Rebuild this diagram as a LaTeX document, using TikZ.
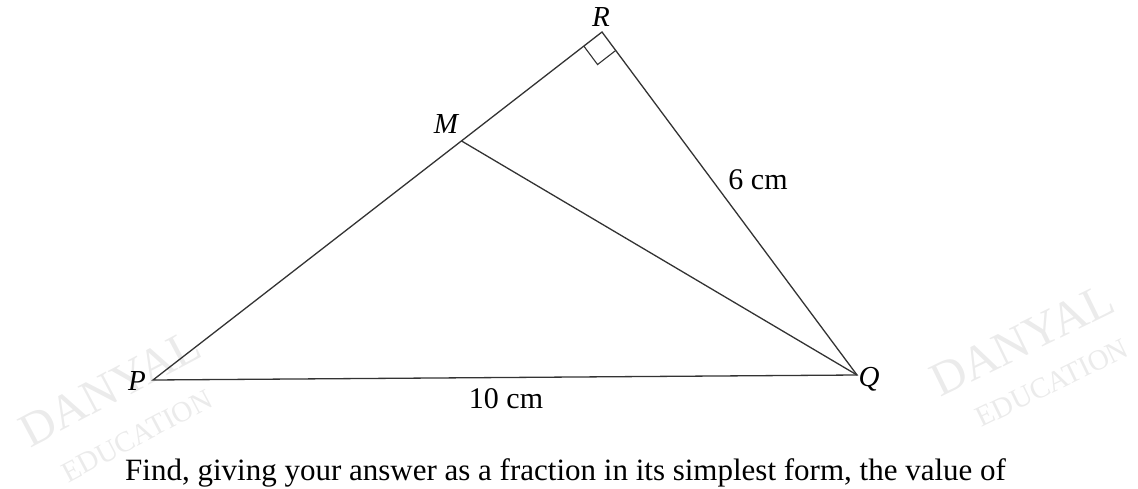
\documentclass[tikz,border=0pt]{standalone}
\usepackage{fontspec}
\setmainfont{Liberation Serif}
\usetikzlibrary{calc}
\begin{document}
\begin{tikzpicture}[x=1pt,y=-1pt,
  edge/.style={draw=black!80,line width=1.3pt},
  lbl/.style={font=\fontsize{29}{32}\selectfont\itshape,inner sep=0pt},
  meas/.style={font=\fontsize{30}{33}\selectfont,inner sep=0pt},
  body/.style={font=\fontsize{31}{34}\selectfont,inner sep=0pt},
  wmbig/.style={font=\fontsize{48}{50}\selectfont,text=black!8,inner sep=0pt},
  wmsmall/.style={font=\fontsize{29}{31}\selectfont,text=black!8,inner sep=0pt}]
\useasboundingbox (0,0) rectangle (1138,489);
% watermarks
\node[wmbig,rotate=28] (wm1) at (110,388) {DANYAL};
\node[wmsmall,rotate=28] (wm2) at (137,436) {EDUCATION};
\node[wmbig,rotate=26] (wm3) at (1022,340) {DANYAL};
\node[wmsmall,rotate=26] (wm4) at (1052,383) {EDUCATION};
% vertices
\coordinate (P) at (153,380);
\coordinate (Q) at (857,375);
\coordinate (R) at (602,32);
\coordinate (M) at ($(R)!0.313!(P)$);
\draw[edge] (P) -- (Q) -- (R) -- cycle;
\draw[edge] (M) -- (Q);
% right angle mark
\coordinate (ra1) at ($(R)!23pt!(P)$);
\coordinate (ra2) at ($(R)!23pt!(Q)$);
\draw[edge,line width=1.1pt] (ra1) -- ($(ra1)+(ra2)-(R)$) -- (ra2);
% labels
\node[lbl] (lP) at (137,381) {P};
\node[lbl] (lQ) at (869,379) {Q};
\node[lbl] (lR) at (601,17) {R};
\node[lbl] (lM) at (446,124) {M};
\node[meas] (l6) at (758,180) {6 cm};
\node[meas] (l10) at (506,399) {10 cm};
\node[body,anchor=base west] (txt) at (125,480) {Find, giving your answer as a fraction in its simplest form, the value of};
\end{tikzpicture}
\end{document}
